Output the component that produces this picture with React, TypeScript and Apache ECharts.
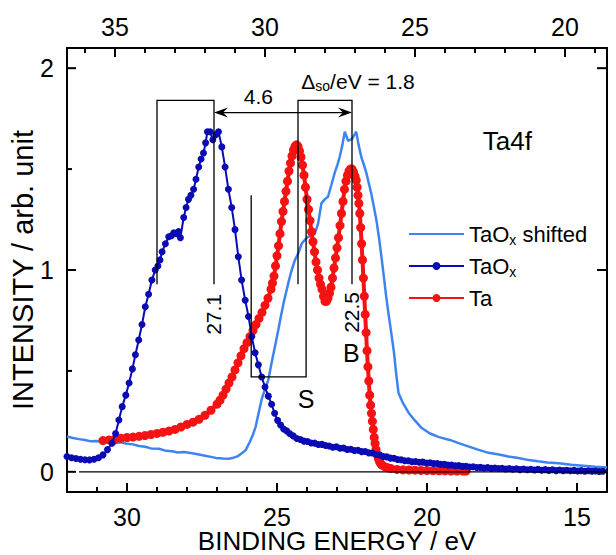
import React, { useEffect, useRef } from 'react';
import * as echarts from 'echarts';

// ---------- tick values ----------
const bottomMajor = [30, 25, 20, 15];
const bottomMinor = [31, 29, 28, 27, 26, 24, 23, 22, 21, 19, 18, 17, 16];
const topMajor = [35, 30, 25, 20];
const topMinor = [36, 34, 33, 32, 31, 29, 28, 27, 26, 24, 23, 22, 21, 19];
const yMajor = [0, 1, 2];
const yMinor = [0.5, 1.5];

// ---------- series ----------
const seriesNames = ['TaOx shifted', 'TaOx', 'Ta'];

// Ta (metal) – binding energy / intensity
const taX = [
  30.8, 30.6, 30.4, 30.2, 30.0, 29.8, 29.6, 29.4, 29.2, 29.0, 28.8, 28.6, 28.4, 28.2, 28.0, 27.8, 27.6, 27.4,
  27.2, 27.0, 26.9, 26.8, 26.7, 26.6, 26.5, 26.4, 26.3, 26.2, 26.1, 26.0, 25.9, 25.8, 25.7, 25.6, 25.5, 25.4,
  25.3, 25.2, 25.15, 25.1, 25.05, 25.0, 24.95, 24.9, 24.85, 24.8, 24.75, 24.7, 24.65, 24.6, 24.55, 24.5, 24.45,
  24.4, 24.35, 24.3, 24.25, 24.2, 24.15, 24.1, 24.05, 24.0, 23.95, 23.9, 23.85, 23.8, 23.75, 23.7, 23.65, 23.6,
  23.55, 23.5, 23.45, 23.4, 23.35, 23.3, 23.25, 23.2, 23.15, 23.1, 23.05, 23.0, 22.95, 22.9, 22.85, 22.8, 22.75,
  22.7, 22.65, 22.6, 22.55, 22.5, 22.45, 22.4, 22.36, 22.33, 22.3, 22.27, 22.24, 22.21, 22.18, 22.15, 22.12,
  22.09, 22.06, 22.03, 22.0, 21.97, 21.94, 21.91, 21.88, 21.85, 21.82, 21.79, 21.76, 21.73, 21.7, 21.66, 21.62,
  21.58, 21.54, 21.5, 21.4, 21.3, 21.2, 21.0, 20.8, 20.6, 20.4, 20.2, 20.0, 19.8, 19.6, 19.4, 19.2, 19.0, 18.8, 18.7,
];
const taY = [
  0.155, 0.158, 0.162, 0.166, 0.17, 0.172, 0.176, 0.18, 0.185, 0.19, 0.196, 0.202, 0.21, 0.222, 0.235, 0.246, 0.26, 0.28,
  0.305, 0.335, 0.355, 0.38, 0.41, 0.44, 0.47, 0.505, 0.54, 0.575, 0.61, 0.64, 0.67, 0.7, 0.73, 0.76, 0.79, 0.825,
  0.86, 0.905, 0.935, 0.97, 1.02, 1.07, 1.12, 1.18, 1.24, 1.29, 1.34, 1.39, 1.44, 1.49, 1.53, 1.565, 1.595,
  1.612, 1.62, 1.612, 1.59, 1.56, 1.52, 1.47, 1.41, 1.35, 1.3, 1.245, 1.19, 1.14, 1.09, 1.04, 1.0, 0.96,
  0.93, 0.905, 0.87, 0.845, 0.845, 0.86, 0.885, 0.915, 0.96, 1.01, 1.06, 1.11, 1.16, 1.22, 1.28, 1.34, 1.4,
  1.44, 1.47, 1.49, 1.5, 1.5, 1.485, 1.465, 1.445, 1.41, 1.37, 1.33, 1.28, 1.21, 1.13, 1.05, 0.96,
  0.87, 0.78, 0.69, 0.6, 0.52, 0.45, 0.38, 0.33, 0.29, 0.25, 0.21, 0.17, 0.14, 0.11, 0.085, 0.065,
  0.05, 0.04, 0.033, 0.025, 0.02, 0.016, 0.012, 0.01, 0.009, 0.008, 0.007, 0.006, 0.006, 0.005, 0.005, 0.004, 0.004, 0.004, 0.004,
];

// TaOx (oxide) – binding energy / intensity
const taoxX = [
  32.0, 31.85, 31.7, 31.55, 31.4, 31.25, 31.1, 30.95, 30.8, 30.65, 30.5, 30.38, 30.27, 30.16, 30.04, 29.93, 29.82,
  29.72, 29.61, 29.5, 29.39, 29.28, 29.17, 29.06, 28.97, 28.9, 28.83, 28.72, 28.61, 28.52, 28.44, 28.35, 28.28,
  28.22, 28.11, 28.03, 27.95, 27.87, 27.78, 27.7, 27.61, 27.53, 27.45, 27.38, 27.32, 27.23, 27.14, 27.04, 26.95,
  26.84, 26.73, 26.62, 26.51, 26.4, 26.29, 26.18, 26.06, 25.95, 25.84, 25.73, 25.62, 25.51, 25.4, 25.29, 25.18,
  25.08, 24.98, 24.88, 24.78, 24.68, 24.58, 24.46, 24.34, 24.22, 24.1, 23.98, 23.86, 23.74, 23.62, 23.5, 23.38,
  23.26, 23.14, 23.02, 22.9, 22.78, 22.66, 22.54, 22.42, 22.3, 22.18, 22.06, 21.94, 21.82, 21.7, 21.58, 21.46,
  21.34, 21.22, 21.1, 20.98, 20.86, 20.74, 20.62, 20.5, 20.38, 20.26, 20.14, 20.02, 19.9, 19.78, 19.66, 19.54,
  19.42, 19.3, 19.18, 19.06, 18.94, 18.82, 18.7, 18.58, 18.46, 18.34, 18.22, 18.1, 17.98, 17.86, 17.74, 17.62,
  17.5, 17.38, 17.26, 17.14, 17.02, 16.9, 16.78, 16.66, 16.54, 16.42, 16.3, 16.18, 16.06, 15.94, 15.82, 15.7,
  15.58, 15.46, 15.34, 15.22, 15.1, 14.98, 14.86, 14.74, 14.62, 14.5, 14.38, 14.26, 14.14,
];
const taoxY = [
  0.076, 0.07, 0.066, 0.062, 0.06, 0.059, 0.062, 0.07, 0.084, 0.11, 0.142, 0.19, 0.257, 0.323, 0.38, 0.44, 0.51,
  0.58, 0.653, 0.73, 0.818, 0.88, 0.95, 1.0, 1.02, 1.05, 1.09, 1.13, 1.165, 1.17, 1.185, 1.18, 1.19,
  1.16, 1.26, 1.31, 1.35, 1.37, 1.4, 1.45, 1.51, 1.55, 1.58, 1.63, 1.685, 1.685, 1.645, 1.67, 1.685,
  1.61, 1.51, 1.4, 1.31, 1.2, 1.066, 0.95, 0.85, 0.77, 0.67, 0.59, 0.53, 0.47, 0.42, 0.375, 0.335,
  0.29, 0.255, 0.232, 0.212, 0.203, 0.19, 0.178, 0.165, 0.16, 0.152, 0.15, 0.143, 0.142, 0.135, 0.136, 0.13,
  0.128, 0.122, 0.124, 0.117, 0.118, 0.111, 0.112, 0.106, 0.107, 0.1, 0.101, 0.094, 0.093, 0.086, 0.084, 0.076,
  0.074, 0.068, 0.067, 0.061, 0.06, 0.055, 0.055, 0.05, 0.051, 0.047, 0.048, 0.044, 0.045, 0.041, 0.041, 0.037,
  0.037, 0.033, 0.034, 0.03, 0.031, 0.027, 0.028, 0.024, 0.025, 0.021, 0.022, 0.019, 0.021, 0.017, 0.019, 0.016,
  0.018, 0.014, 0.016, 0.013, 0.015, 0.011, 0.014, 0.01, 0.013, 0.009, 0.012, 0.008, 0.011, 0.007, 0.01, 0.006,
  0.009, 0.006, 0.008, 0.005, 0.007, 0.004, 0.006, 0.003, 0.005, 0.003, 0.004, 0.002, 0.003,
];

// TaOx shifted by the chemical shift
const shiftX = [
  32.0, 31.8, 31.6, 31.4, 31.2, 31.0, 30.8, 30.6, 30.4, 30.2, 30.04, 29.8, 29.6, 29.4, 29.2, 28.93, 28.7, 28.5,
  28.3, 28.1, 27.83, 27.6, 27.4, 27.2, 27.04, 26.8, 26.6, 26.49, 26.3, 26.15, 26.04, 25.9, 25.8, 25.71, 25.6,
  25.51, 25.4, 25.29, 25.18, 25.07, 24.96, 24.85, 24.76, 24.68, 24.6, 24.51, 24.4, 24.29, 24.18, 24.07, 23.96,
  23.85, 23.74, 23.63, 23.52, 23.41, 23.3, 23.19, 23.08, 22.99, 22.91, 22.82, 22.74, 22.68, 22.63, 22.5, 22.42,
  22.36, 22.28, 22.19, 22.1, 22.02, 21.94, 21.86, 21.78, 21.69, 21.6, 21.52, 21.44, 21.36, 21.28, 21.19, 21.1,
  21.03, 20.95, 20.8, 20.6, 20.42, 20.2, 19.9, 19.6, 19.24, 18.9, 18.6, 18.3, 17.95, 17.6, 17.29, 17.0, 16.6,
  16.3, 15.99, 15.6, 15.2, 14.8, 14.4, 14.0,
];
const shiftY = [
  0.175, 0.168, 0.162, 0.158, 0.151, 0.153, 0.146, 0.149, 0.142, 0.146, 0.14, 0.136, 0.128, 0.124, 0.116, 0.114, 0.104, 0.102,
  0.096, 0.098, 0.092, 0.086, 0.08, 0.074, 0.069, 0.066, 0.065, 0.068, 0.078, 0.094, 0.109, 0.15, 0.185, 0.224, 0.3,
  0.36, 0.41, 0.455, 0.54, 0.62, 0.7, 0.786, 0.85, 0.9, 0.95, 1.0, 1.05, 1.083, 1.13, 1.15, 1.165,
  1.17, 1.18, 1.23, 1.33, 1.35, 1.363, 1.42, 1.48, 1.52, 1.56, 1.62, 1.685, 1.66, 1.64, 1.65, 1.67,
  1.685, 1.62, 1.56, 1.52, 1.48, 1.43, 1.38, 1.32, 1.25, 1.16, 1.066, 0.97, 0.868, 0.78, 0.687, 0.59,
  0.489, 0.39, 0.34, 0.29, 0.257, 0.22, 0.19, 0.172, 0.158, 0.14, 0.125, 0.11, 0.094, 0.086, 0.076, 0.07, 0.058,
  0.052, 0.046, 0.042, 0.035, 0.03, 0.025, 0.022,
];

// annotation values (eV)
const peakOxide = 27.1;
const peakMetal = 22.5;
const chemShift = 4.6;
const spinOrbit = 1.8;

const FONT = '"Liberation Sans", Arial, Helvetica, sans-serif';
const BLACK = '#000';

function toPairs(xs: number[], ys: number[]) {
  return xs.map((x, i) => [x, ys[i]]);
}

const xMin = 14;
const xMax = 32;
const yMin = -0.1;
const yMax = 2.1;

function buildOption(): any {
  const axisLine = { show: true, onZero: false, lineStyle: { color: BLACK, width: 2 } };
  const labelStyle = { color: BLACK, fontSize: 25, fontFamily: FONT };

  const legendLabel: Record<string, string> = {
    'TaOx shifted': '{n|TaO}{s|x}{n| shifted}',
    TaOx: '{n|TaO}{s|x}',
    Ta: '{n|Ta}',
  };

  return {
    animation: false,
    backgroundColor: '#fff',
    grid: { left: 67, right: 9, top: 48, bottom: 63, containLabel: false, outerBoundsMode: 'none' },
    legend: {
      data: [
        { name: seriesNames[0], itemStyle: { opacity: 0 } },
        { name: seriesNames[1] },
        { name: seriesNames[2] },
      ],
      orient: 'vertical',
      left: 403,
      top: 218,
      itemWidth: 55,
      itemHeight: 10,
      itemGap: 8,
      selectedMode: false,
      formatter: (n: string) => legendLabel[n] || n,
      textStyle: {
        color: BLACK,
        fontFamily: FONT,
        fontSize: 22,
        rich: {
          n: { fontSize: 22, fontFamily: FONT, color: BLACK, lineHeight: 26 },
          s: { fontSize: 14, fontFamily: FONT, color: BLACK, lineHeight: 14, verticalAlign: 'bottom' },
        },
      },
    },
    xAxis: [
      {
        type: 'value', position: 'bottom', min: xMin, max: xMax, inverse: true,
        axisLine,
        axisTick: { show: false },
        axisLabel: { ...labelStyle, customValues: bottomMajor, margin: 12 },
        splitLine: { show: false },
        name: 'BINDING ENERGY / eV', nameLocation: 'middle', nameGap: 36, nameMoveOverlap: false,
        nameTextStyle: { color: BLACK, fontSize: 26, fontFamily: FONT },
      },
      {
        type: 'value', position: 'top', min: xMin + chemShift, max: xMax + chemShift, inverse: true,
        axisLine,
        axisTick: { show: false },
        axisLabel: { ...labelStyle, customValues: topMajor, margin: 9 },
        splitLine: { show: false },
      },
    ],
    yAxis: [
      {
        type: 'value', position: 'left', min: yMin, max: yMax,
        axisLine,
        axisTick: { show: false },
        axisLabel: { ...labelStyle, customValues: yMajor, margin: 13, formatter: (v: number) => String(v) },
        splitLine: { show: false },
        name: 'INTENSITY / arb. unit', nameLocation: 'middle', nameGap: 30, nameRotate: 90, nameMoveOverlap: false,
        nameTextStyle: { color: BLACK, fontSize: 29, fontFamily: FONT },
      },
      {
        type: 'value', position: 'right', min: yMin, max: yMax,
        axisLine,
        axisTick: { show: false },
        axisLabel: { show: false },
        splitLine: { show: false },
      },
    ],
    series: [
      {
        name: 'TaOx shifted', type: 'line', xAxisIndex: 0, yAxisIndex: 0,
        data: toPairs(shiftX, shiftY), symbol: 'none', showSymbol: false,
        lineStyle: { color: '#3d84f0', width: 2.5 }, itemStyle: { color: '#3d84f0' }, z: 2,
      },
      {
        name: 'Ta', type: 'line', xAxisIndex: 0, yAxisIndex: 0,
        data: toPairs(taX, taY), symbol: 'circle', symbolSize: 9,
        lineStyle: { color: '#f41212', width: 4 }, itemStyle: { color: '#f41212' }, z: 3,
      },
      {
        name: 'TaOx', type: 'line', xAxisIndex: 0, yAxisIndex: 0,
        data: toPairs(taoxX, taoxY), symbol: 'circle', symbolSize: 7,
        lineStyle: { color: '#0b0bb4', width: 2 }, itemStyle: { color: '#0b0bb4' }, z: 4,
      },
      {
        name: 'annotations', type: 'custom', xAxisIndex: 0, yAxisIndex: 0, silent: true, clip: false, z: 6,
        data: [[peakOxide, 0]],
        renderItem: (_params: any, api: any) => {
          const c = (x: number, y: number) => api.coord([x, y]);
          const children: any[] = [];
          const poly = (pts: number[][], w = 1.3) =>
            children.push({
              type: 'polyline',
              shape: { points: pts.map((p) => c(p[0], p[1])) },
              style: { stroke: BLACK, lineWidth: w, fill: null },
            });
          const bracketTop = 1.84;
          const bracketBottom = 0.93;
          const oxideLeft = 29.0;
          const metalLeft = 24.3;
          const sLeft = 25.86;
          const sRight = 24.03;
          const sTop = 1.37;
          const sBottom = 0.47;
          const arrowY = 1.78;
          poly([[oxideLeft, bracketBottom], [oxideLeft, bracketTop], [peakOxide, bracketTop], [peakOxide, bracketBottom]]);
          poly([[metalLeft, bracketBottom], [metalLeft, bracketTop], [peakMetal, bracketTop], [peakMetal, bracketBottom]]);
          poly([[sLeft, sTop], [sLeft, sBottom], [sRight, sBottom], [sRight, sTop]]);
          poly([[31.6, 0], [xMin, 0]]);
          const a1 = c(peakOxide, arrowY);
          const a2 = c(peakMetal, arrowY);
          children.push({
            type: 'polyline',
            shape: { points: [[a1[0] + 4, a1[1]], [a2[0] - 4, a2[1]]] },
            style: { stroke: BLACK, lineWidth: 1.3, fill: null },
          });
          children.push({
            type: 'polygon',
            shape: { points: [[a1[0], a1[1]], [a1[0] + 14, a1[1] - 5], [a1[0] + 9, a1[1]], [a1[0] + 14, a1[1] + 5]] },
            style: { fill: BLACK },
          });
          children.push({
            type: 'polygon',
            shape: { points: [[a2[0], a2[1]], [a2[0] - 14, a2[1] - 5], [a2[0] - 9, a2[1]], [a2[0] - 14, a2[1] + 5]] },
            style: { fill: BLACK },
          });
          const txt = (x: number, y: number, text: string, size: number, rot = 0) => {
            const p = c(x, y);
            children.push({
              type: 'text', x: p[0], y: p[1], rotation: rot,
              style: { text, fill: BLACK, fontSize: size, fontFamily: FONT, align: 'center', verticalAlign: 'middle' },
            });
          };
          txt(25.62, 1.86, String(chemShift), 21);
          txt(peakOxide + 0.02, 0.78, String(peakOxide), 21, Math.PI / 2);
          txt(peakMetal + 0.02, 0.79, String(peakMetal), 21, Math.PI / 2);
          txt(24.03, 0.36, 'S', 25);
          txt(22.52, 0.59, 'B', 25);
          txt(17.32, 1.64, 'Ta4f', 26);
          const d = c(24.19, 1.935);
          children.push({
            type: 'text', x: d[0], y: d[1],
            style: {
              text: '{a|Δ}{s|so}{a|/eV = ' + spinOrbit.toFixed(1) + '}',
              align: 'left', verticalAlign: 'middle',
              rich: {
                a: { fontSize: 21, fontFamily: FONT, fill: BLACK, color: BLACK, lineHeight: 24 },
                s: { fontSize: 14, fontFamily: FONT, fill: BLACK, color: BLACK, lineHeight: 14, verticalAlign: 'bottom' },
              },
            },
          });
          return { type: 'group', children };
        },
      },
    ],
  };
}

export default function App() {
  const ref = useRef<HTMLDivElement>(null);
  useEffect(() => {
    if (!ref.current) return;
    const chart = echarts.init(ref.current, null, { renderer: 'svg' });
    chart.setOption(buildOption());
    // tick marks: the axes' own linear scale, sampled at two interior points
    const pA = chart.convertToPixel({ gridIndex: 0 }, [30, 0]) as number[];
    const pB = chart.convertToPixel({ gridIndex: 0 }, [20, 1]) as number[];
    const sx = (pB[0] - pA[0]) / (20 - 30);
    const sy = pB[1] - pA[1];
    const X = (v: number) => pA[0] + (v - 30) * sx;
    const Y = (w: number) => pA[1] + w * sy;
    const els: any[] = [];
    const add = (x: number, y: number, dx: number, dy: number) =>
      els.push({
        type: 'line', z: 100,
        shape: { x1: x, y1: y, x2: x + dx, y2: y + dy },
        style: { stroke: BLACK, lineWidth: 2 },
      });
    bottomMajor.forEach((v) => add(X(v), Y(yMin), 0, -9));
    bottomMinor.forEach((v) => add(X(v), Y(yMin), 0, -5));
    topMajor.forEach((v) => add(X(v - chemShift), Y(yMax), 0, 9));
    topMinor.forEach((v) => add(X(v - chemShift), Y(yMax), 0, 5));
    yMajor.forEach((v) => add(X(xMax), Y(v), 9, 0));
    yMinor.forEach((v) => add(X(xMax), Y(v), 5, 0));
    yMajor.forEach((v) => add(X(xMin), Y(v), -10, 0));
    chart.setOption({ graphic: els });
    return () => chart.dispose();
  }, []);
  return <div ref={ref} style={{ position: 'absolute', left: 0, top: 0, width: 616, height: 555 }} />;
}
